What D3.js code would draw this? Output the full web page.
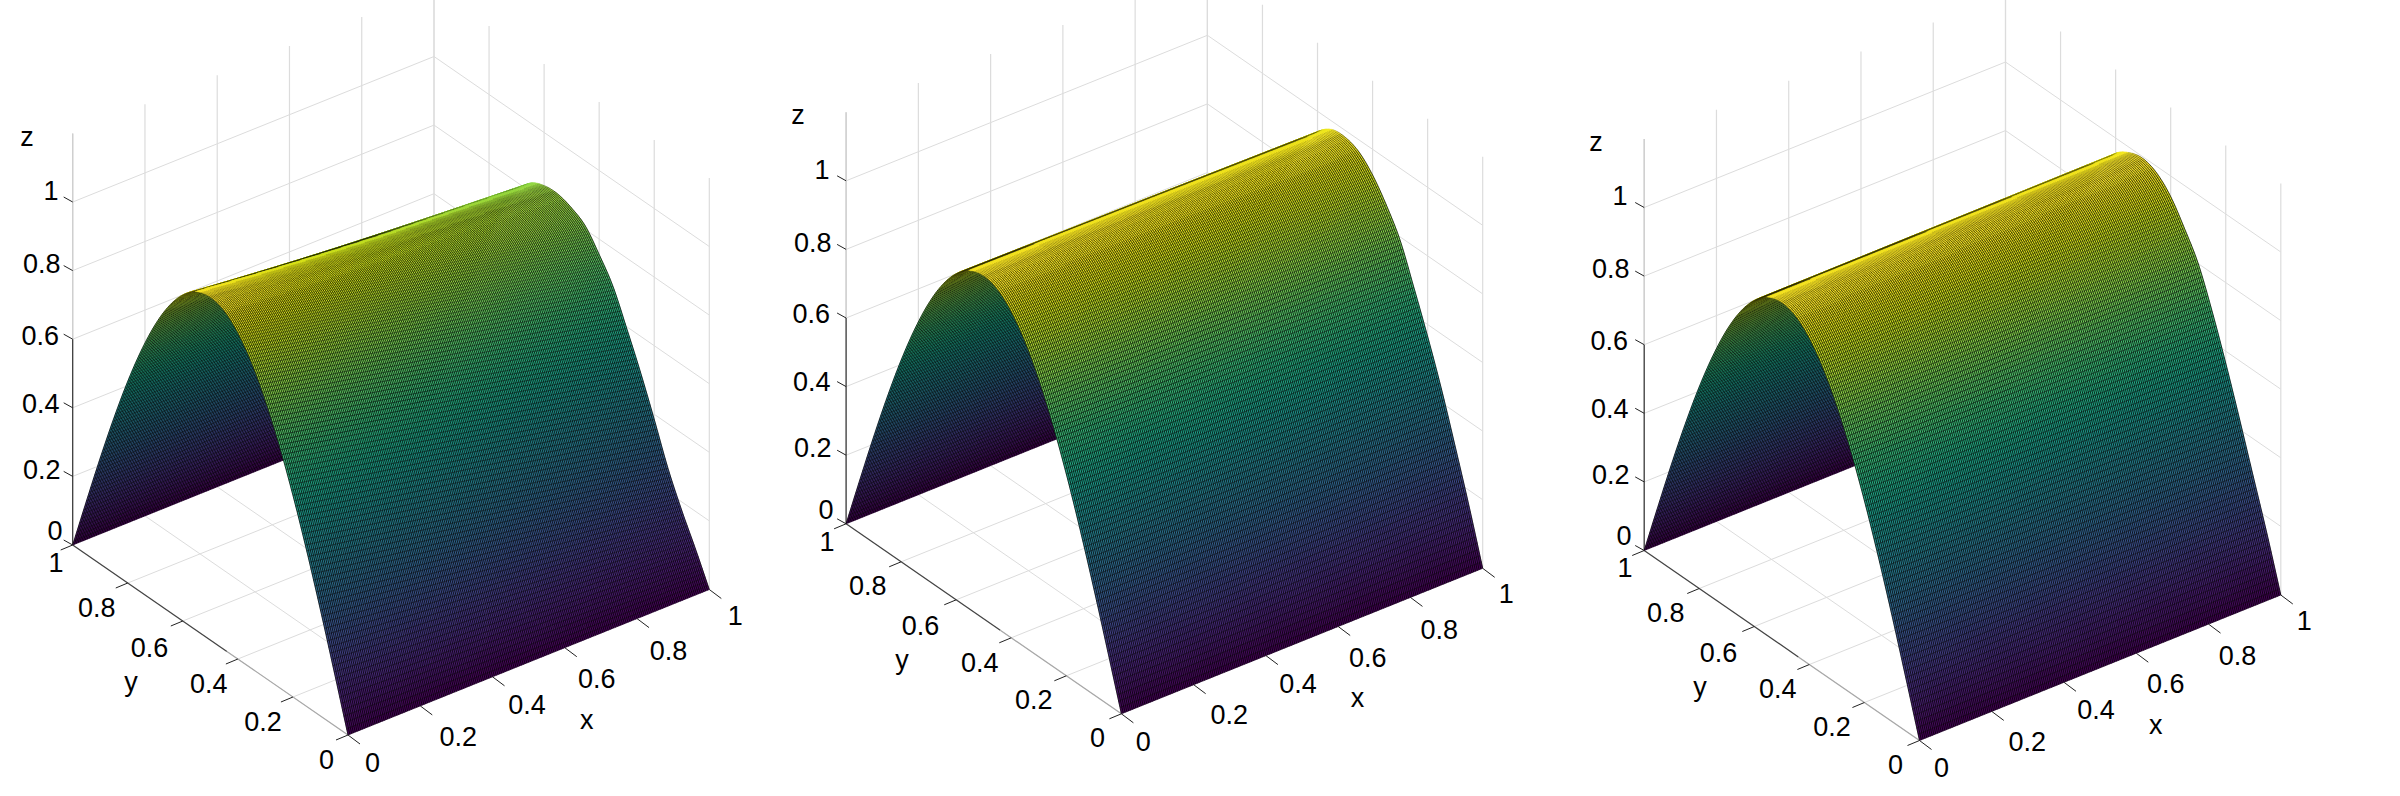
<!DOCTYPE html>
<html><head><meta charset="utf-8">
<style>html,body{margin:0;padding:0;background:#fff}svg{display:block}
text{font-family:"Liberation Sans",Arial,sans-serif;font-size:27px;fill:#000}</style>
<script src="https://cdn.jsdelivr.net/npm/d3@7"></script></head><body>
<script>
// ---- values ----
const xTicks=[0,0.2,0.4,0.6,0.8,1];
const yTicks=[0,0.2,0.4,0.6,0.8,1];
const zTicks=[0,0.2,0.4,0.6,0.8,1];
const zTop=1.2;
const xNodes=[0,0.5,1];
const yNodes=[0,.05,.1,.15,.2,.25,.3,.35,.4,.45,.5,.55,.6,.65,.7,.75,.8,.85,.9,.95,1];
const archStart=[0,.156,.309,.454,.588,.707,.809,.891,.951,.988,1,.988,.951,.891,.809,.707,.588,.454,.309,.156,0];
const left_mid=[0,.123,.242,.362,.487,.601,.702,.79,.853,.899,.918,.918,.898,.858,.79,.699,.584,.452,.31,.156,0];
const left_end=[0,.09,.175,.27,.385,.495,.595,.69,.755,.81,.835,.848,.845,.825,.77,.69,.58,.45,.31,.155,0];
const centre_mid=[0,.155,.305,.447,.577,.694,.8,.878,.938,.977,.99,.982,.946,.883,.8,.699,.579,.447,.305,.153,0];
const centre_end=[0,.155,.3,.44,.565,.68,.79,.865,.925,.965,.98,.975,.94,.875,.79,.69,.57,.44,.3,.15,0];
const right_mid=[0,.153,.3,.442,.577,.699,.805,.883,.946,.984,.998,.987,.953,.89,.807,.706,.587,.452,.307,.156,0];
const right_end=[0,.15,.29,.43,.565,.69,.8,.875,.94,.98,.995,.985,.955,.89,.805,.705,.585,.45,.305,.155,0];
const panelRows=[[archStart,left_mid,left_end],[archStart,centre_mid,centre_end],[archStart,right_mid,right_end]];

// ---- layout ----
const W=2400,H=796,MESH=200,LEVELS=160;
const crestRamp=[[4,7,.25],[7,10,.45],[10,15,.65],[15,22,.85]];
const frames=[
 {left:[72.7,545],near:[348,735],right:[709.3,589.5],unit:343,dt:[0,0]},
 {left:[846.1,523.8],near:[1121.4,713.8],right:[1482.7,568.3],unit:343,dt:[-2.5,-.5]},
 {left:[1644.2,550.5],near:[1919.5,740.5],right:[2280.8,595],unit:343,dt:[-2.5,-.5]}];
const xLabelOff=[[24.4,27.8],[38,30],[34.5,28],[32,31],[31.4,32],[26,26]];
const yLabelOff=[[-21.5,24],[-30,24],[-29,24.7],[-33.3,25.9],[-31,24],[-16.6,17.8]];
const zLabelOff=[[-17.6,-14.4],[-30.9,-7],[-31.9,-4.6],[-32.4,-4.3],[-30.9,-7],[-21.7,-11.2]];

const svg=d3.select("body").append("svg").attr("width",W).attr("height",H).attr("viewBox",`0 0 ${W} ${H}`);
const colour=d3.scaleSequential(d3.interpolateViridis).domain([0,1]);

function catmull(a,b,c,d,t){return .5*((2*b)+(-a+c)*t+(2*a-5*b+4*c-d)*t*t+(-a+3*b-3*c+d)*t*t*t);}
function surfaceHeight(rows,x,y){
  const seg=Math.min(xNodes.length-2,Math.floor(x/xNodes[1]));
  const u=(x-xNodes[seg])/(xNodes[seg+1]-xNodes[seg]);
  const at=r=>{const p=y/yNodes[1],i=Math.min(yNodes.length-2,Math.floor(p)),t=p-i;
    const v=k=>r[Math.max(0,Math.min(r.length-1,k))];
    return catmull(i===0?-v(1):v(i-1),v(i),v(i+1),i>=r.length-2?-v(r.length-2):v(i+2),t);};
  return d3.interpolateNumber(at(rows[seg]),at(rows[seg+1]))(u);
}
const fmt=q=>q[0].toFixed(2)+" "+q[1].toFixed(2);

frames.forEach((f,pi)=>{
  const xs=d3.scaleLinear().domain([0,1]);
  const xX=xs.copy().range([0,f.right[0]-f.near[0]]),xY=xs.copy().range([0,f.right[1]-f.near[1]]);
  const yX=xs.copy().range([0,f.left[0]-f.near[0]]),yY=xs.copy().range([0,f.left[1]-f.near[1]]);
  const zY=d3.scaleLinear().domain([0,1]).range([0,-f.unit]);
  const P=(x,y,z)=>[f.near[0]+xX(x)+yX(y),f.near[1]+xY(x)+yY(y)+zY(z)];
  const g=svg.append("g");
  const seg=(sel,cls,data,a,b,stroke,w)=>sel.append("g").attr("class",cls).selectAll("line").data(data).join("line")
    .attr("x1",d=>a(d)[0]).attr("y1",d=>a(d)[1]).attr("x2",d=>b(d)[0]).attr("y2",d=>b(d)[1])
    .attr("stroke",stroke).attr("stroke-width",w).attr("fill","none");
  // walls and floor
  seg(g,"grid-floor-x",xTicks,d=>P(d,0,0),d=>P(d,1,0),"#dcdcdc",1);
  seg(g,"grid-floor-y",yTicks,d=>P(0,d,0),d=>P(1,d,0),"#dcdcdc",1);
  seg(g,"grid-back-h",zTicks,d=>P(0,1,d),d=>P(1,1,d),"#dcdcdc",1);
  seg(g,"grid-side-h",zTicks,d=>P(1,0,d),d=>P(1,1,d),"#dcdcdc",1);
  seg(g,"grid-back-v",xTicks,d=>P(d,1,0),d=>P(d,1,zTop),"#dcdcdc",1.2);
  seg(g,"grid-side-v",yTicks,d=>P(1,d,0),d=>P(1,d,zTop),"#dcdcdc",1.2);
  // axes
  seg(g,"axis-z-top",[0],()=>P(0,1,.6),()=>P(0,1,zTop),"#cfcfcf",1.4);
  seg(g,"axis-z",[0],()=>P(0,1,0),()=>P(0,1,.6),"#333",1.2);
  seg(g,"axis-y",[0],()=>P(0,1,0),()=>P(0,.44,0),"#444",1.2);
  seg(g,"axis-y2",[0],()=>P(0,.44,0),()=>P(0,0,0),"#a8a8a8",1.2);
  // surface: inner side first, then outer side; each with its mesh
  const rows=panelRows[pi];
  const steps=d3.range(MESH+1).map(i=>i/MESH);
  const z=steps.map(x=>steps.map(y=>surfaceHeight(rows,x,y)));
  const pts=steps.map((x,i)=>steps.map((y,j)=>P(x,y,z[i][j])));
  const crest=steps.map((x,i)=>d3.leastIndex(pts[i],(a,b)=>a[1]-b[1]));
  const drawSide=(name,isBack)=>{
    const sg=g.append("g").attr("class","surface-"+name);
    const fills=[];
    for(let j=MESH-1;j>=0;j--){
      const m=new Map();
      for(let i=MESH-1;i>=0;i--){
        if((j>=crest[i])!==isBack) continue;
        const zm=(z[i][j]+z[i+1][j]+z[i][j+1]+z[i+1][j+1])/4;
        const lev=Math.round(Math.max(0,Math.min(1,zm))*LEVELS);
        const d="M"+[pts[i][j],pts[i+1][j],pts[i+1][j+1],pts[i][j+1]].map(fmt).join("L")+"Z";
        m.set(lev,(m.get(lev)||"")+d);
      }
      m.forEach((d,lev)=>fills.push({d,lev}));
    }
    sg.append("g").selectAll("path").data(fills).join("path")
      .attr("d",d=>d.d).attr("fill",d=>colour(d.lev/LEVELS)).attr("stroke",d=>colour(d.lev/LEVELS)).attr("stroke-width",.4);
    // lines of constant y: fade where rows crowd together near the crest
    const CH=20,rowLines=[];
    for(let j=MESH;j>=0;j--) for(let c=0;c<MESH;c+=CH){
      const mid=Math.min(MESH,c+CH/2);
      if((j>=crest[mid])!==isBack) continue;
      const h=Math.abs(pts[mid][Math.min(MESH,j+1)][1]-pts[mid][Math.max(0,j-1)][1])/2;
      if(h<.9) continue;
      rowLines.push({d:"M"+d3.range(c,c+CH+1).map(i=>fmt(pts[i][j])).join("L"),o:Math.min(1,h/4.5)});
    }
    sg.append("g").selectAll("path").data(rowLines).join("path")
      .attr("d",d=>d.d).attr("fill","none").attr("stroke","#000").attr("stroke-width",.5).attr("stroke-opacity",d=>d.o);
    // lines of constant x: solid on the slope, fading where they run along the crest
    const colLines=[];
    const sideRange=(c,a,b)=>isBack?d3.range(Math.min(MESH,c+a),Math.min(MESH,c+b)+1):d3.range(Math.max(0,c-b),Math.max(0,c-a)+1);
    steps.forEach((x,i)=>{
      const c=crest[i],last=crestRamp[crestRamp.length-1][1];
      colLines.push({d:"M"+sideRange(c,last,MESH).map(j=>fmt(pts[i][j])).join("L"),o:1});
      crestRamp.forEach(([a,b,o])=>colLines.push({d:"M"+sideRange(c,a,b).map(j=>fmt(pts[i][j])).join("L"),o}));
    });
    sg.append("g").selectAll("path").data(colLines).join("path")
      .attr("d",d=>d.d).attr("fill","none").attr("stroke","#000").attr("stroke-width",.76).attr("stroke-opacity",d=>d.o);
  };
  drawSide("inner",true);
  drawSide("outer",false);
  // ticks
  seg(g,"ticks-x",xTicks,d=>P(d,0,0),d=>{const p=P(d,0,0);return [p[0]+12,p[1]+9];},"#222",1);
  seg(g,"ticks-y",yTicks,d=>P(0,d,0),d=>{const p=P(0,d,0);return [p[0]-12,p[1]+5];},"#222",1);
  seg(g,"ticks-z",zTicks,d=>P(0,1,d),d=>{const p=P(0,1,d);return [p[0]-9,p[1]-5];},"#222",1);
  // labels
  const lab=(cls,data,pos,txt)=>g.append("g").attr("class",cls).selectAll("text").data(data).join("text")
    .attr("x",(d,i)=>pos(d,i)[0]+f.dt[0]).attr("y",(d,i)=>pos(d,i)[1]+f.dt[1])
    .attr("text-anchor","middle").text(txt);
  lab("xt",xTicks,(d,i)=>{const p=P(d,0,0);return [p[0]+xLabelOff[i][0],p[1]+xLabelOff[i][1]+9.6];},d=>d);
  lab("yt",yTicks,(d,i)=>{const p=P(0,d,0);return [p[0]+yLabelOff[i][0],p[1]+yLabelOff[i][1]+9.6];},d=>d);
  lab("zt",zTicks,(d,i)=>{const p=P(0,1,d);return [p[0]+zLabelOff[i][0],p[1]+zLabelOff[i][1]+9.6];},d=>d);
  lab("al",["x","y","z"],(d)=>d==="x"?[f.near[0]+238.7,f.near[1]-13+7]:d==="y"?[f.near[0]-217,f.near[1]-47.8+3.3]:[f.near[0]-321,f.near[1]-596+7],d=>d);
});
</script></body></html>
